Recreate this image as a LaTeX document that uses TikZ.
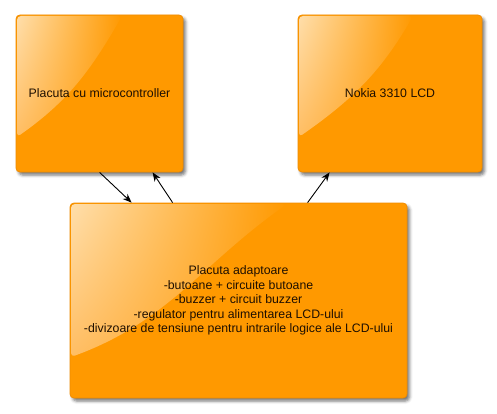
\documentclass[tikz,border=0pt]{standalone}
\usepackage{fontspec}
\setmainfont{Liberation Sans}
\usetikzlibrary{arrows.meta,shadows.blur,shadings}
\definecolor{boxorange}{RGB}{255,153,0}
\definecolor{boxedge}{RGB}{240,140,0}
\definecolor{glosslight}{RGB}{255,222,170}
\definecolor{glossmid}{RGB}{255,190,100}
\definecolor{txtdark}{RGB}{30,15,0}
\tikzset{
  blockbox/.style={draw=boxedge, line width=0.8pt, fill=boxorange, rounded corners=4pt,
    blur shadow={shadow xshift=2.5pt, shadow yshift=-3pt, shadow blur radius=3pt, shadow opacity=55},
    align=center, inner sep=0pt},
  boxtext/.style={font=\fontsize{12.3}{14.6}\selectfont, text=txtdark, align=center},
  gloss/.style={upper left=glosslight, upper right=boxorange, lower left=glossmid, lower right=boxorange},
  conn/.style={line width=0.9pt, -{Stealth[length=9pt,width=7pt]}}
}
\begin{document}
\begin{tikzpicture}[x=1pt,y=-1pt]
\useasboundingbox (0,0) rectangle (497,414);
% boxes
\node[blockbox, minimum width=167pt, minimum height=157pt] (mcu) at (99.5,93.5) {};
\node[blockbox, minimum width=184pt, minimum height=157pt] (lcd) at (390,93.5) {};
\node[blockbox, minimum width=337pt, minimum height=195pt] (adp) at (238.5,300.5) {};
% gloss highlights
\shade[gloss, rounded corners=4pt] (17,16) -- (122,16) to[out=240,in=35] (17,137) -- cycle;
\shade[gloss, rounded corners=4pt] (299,16) -- (413,16) to[out=240,in=35] (299,137) -- cycle;
\shade[gloss, rounded corners=4pt] (71,204) -- (287,204) to[out=215,in=20] (71,357) -- cycle;
% texts
\node[boxtext] (mcut) at (mcu.center) {Placuta cu microcontroller};
\node[boxtext] (lcdt) at (lcd.center) {Nokia 3310 LCD};
\node[boxtext] (adpt) at (adp.center)
 {Placuta adaptoare\\-butoane + circuite butoane\\-buzzer + circuit buzzer\\-regulator pentru alimentarea LCD-ului\\-divizoare de tensiune pentru intrarile logice ale LCD-ului};
% connectors
\draw[conn] ([xshift=84pt]mcu.south west) -- ([xshift=62pt]adp.north west);
\draw[conn] ([xshift=103pt]adp.north west) -- ([xshift=137pt]mcu.south west);
\draw[conn] ([xshift=238pt]adp.north west) -- ([xshift=32pt]lcd.south west);
\end{tikzpicture}
\end{document}
